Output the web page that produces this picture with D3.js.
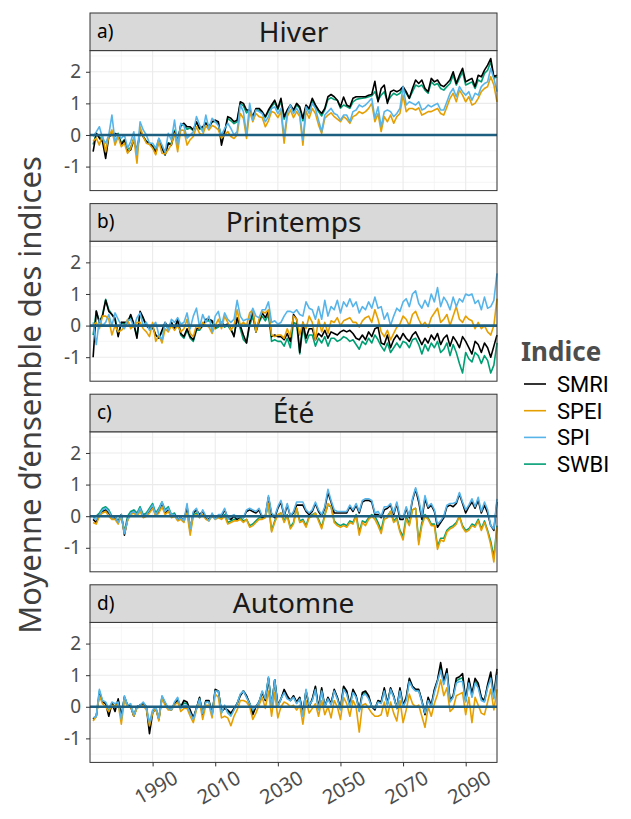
<!DOCTYPE html>
<html>
<head>
<meta charset="utf-8">
<script src="https://cdn.jsdelivr.net/npm/d3@7"></script>
<style>
  body { margin: 0; background: #ffffff; }
  svg { display: block; font-family: "Noto Sans", "Open Sans", "DejaVu Sans", sans-serif; }
</style>
</head>
<body>
<svg id="chart" width="631" height="819"></svg>
<script>
// Years 1971-2100, one ensemble-mean value per year
const years = d3.range(1971, 2101);
const indices = ["SMRI", "SPEI", "SPI", "SWBI"];
const indexColours = ["#000000", "#E69F00", "#56B4E9", "#009E73"];
const drawOrder = ["SWBI", "SMRI", "SPEI", "SPI"];
const seasons = ["Hiver", "Printemps", "Été", "Automne"];
const panelTags = ["a)", "b)", "c)", "d)"];
const yTicks = [-1, 0, 1, 2];
const yMinor = [-1.5, -0.5, 0.5, 1.5, 2.5];
const xTicks = [1990, 2010, 2030, 2050, 2070, 2090];
const xMinor = [1980, 2000, 2020, 2040, 2060, 2080, 2100];

// ---- Hiver ----
const smriHiver = [
 -0.53, 0.05, -0.1, -0.21, -0.74, -0.05, 0.0, 0.05, 0.0, -0.32,
 -0.16, -0.53, -0.47, -0.15, -0.53, 0.1, -0.05, -0.21, -0.26, -0.37,
 -0.58, -0.16, -0.42, -0.63, -0.26, -0.32, 0.1, -0.21, 0.32, 0.37,
 0.26, 0.26, 0.16, 0.42, 0.21, 0.26, 0.37, 0.26, 0.42, 0.47,
 0.42, -0.32, 0.1, 0.58, 0.53, 0.42, 0.47, 1.05, 1.0, 0.79,
 0.79, 0.58, 0.84, 0.84, 0.74, 0.58, 0.79, 0.95, 1.1, 0.84,
 1.16, 0.58, 0.79, 0.95, 0.79, 1.0, 0.89, 0.53, 0.95, 0.84,
 1.16, 0.95, 0.79, 0.68, 0.84, 1.21, 1.28, 1.21, 1.1, 0.89,
 1.2, 0.95, 0.89, 1.16, 1.21, 1.21, 1.21, 1.21, 1.26, 1.28,
 1.7, 1.05, 1.47, 1.58, 1.0, 1.37, 1.42, 1.37, 1.42, 1.53,
 1.37, 1.16, 1.47, 1.74, 1.63, 1.74, 1.47, 1.37, 1.79, 1.68,
 1.74, 1.58, 1.53, 1.63, 1.74, 2.0, 1.63, 1.89, 2.11, 1.68,
 1.74, 1.79, 1.53, 1.89, 1.84, 2.05, 2.21, 2.42, 1.84, 1.89
];
const speiHiver = [
 -0.2, -0.1, -0.32, 0.0, -0.53, -0.05, 0.16, -0.32, -0.05, -0.37,
 -0.26, -0.58, -0.42, -0.1, -0.89, 0.26, -0.05, -0.26, -0.3, -0.42,
 -0.63, -0.2, -0.58, -0.6, -0.47, -0.3, 0.05, -0.53, 0.16, 0.15,
 -0.32, -0.15, -0.05, 0.26, 0.05, 0.0, 0.3, 0.16, 0.3, 0.25,
 0.16, -0.1, 0.0, 0.11, -0.05, -0.11, 0.0, 0.68, 0.53, -0.11,
 0.74, 0.42, 0.68, 0.58, 0.55, 0.26, 0.45, 0.74, 0.7, 0.55,
 0.74, -0.26, 0.58, 0.79, 0.55, 0.74, 0.58, -0.32, 0.75, 0.53,
 0.84, 0.68, 0.32, 0.05, 0.53, 0.63, 0.7, 0.58, 0.5, 0.42,
 0.58, 0.5, 0.37, 0.58, 0.63, 0.74, 0.68, 0.74, 0.84, 1.0,
 0.42, 0.68, 0.11, 0.58, 0.42, 0.63, 0.37, 0.58, 0.68, 1.26,
 0.74, 0.84, 0.84, 0.79, 0.86, 0.63, 0.68, 0.74, 0.74, 0.79,
 0.84, 0.68, 0.63, 0.89, 1.16, 1.32, 1.05, 1.42, 1.26, 1.05,
 1.21, 0.95, 1.0, 1.16, 1.37, 1.47, 1.53, 1.84, 1.58, 1.05
];
const spiHiver = [
 -0.05, 0.1, 0.26, -0.1, -0.26, 0.0, 0.63, -0.21, 0.0, -0.1,
 0.0, -0.42, -0.21, 0.1, -0.63, 0.42, 0.16, 0.0, -0.26, -0.26,
 -0.42, -0.1, -0.32, -0.55, 0.05, -0.16, 0.47, -0.32, 0.37, 0.3,
 -0.1, 0.0, 0.1, 0.58, 0.32, 0.1, 0.63, 0.2, 0.53, 0.42,
 0.3, 0.0, 0.2, 0.37, 0.21, 0.0, 0.11, 0.95, 0.74, 0.0,
 1.0, 0.47, 0.79, 0.74, 0.68, 0.42, 0.58, 0.84, 0.89, 0.68,
 0.84, -0.05, 0.68, 0.95, 0.68, 0.84, 0.68, -0.16, 0.89, 0.68,
 1.0, 0.84, 0.47, 0.11, 0.63, 0.74, 0.84, 0.68, 0.63, 0.47,
 0.63, 0.63, 0.42, 0.74, 0.79, 0.95, 0.89, 0.95, 1.05, 1.16,
 0.53, 0.89, 0.26, 0.74, 0.79, 0.74, 0.58, 0.68, 0.84, 1.53,
 0.95, 1.05, 1.0, 0.95, 1.05, 0.79, 0.84, 0.95, 0.89, 0.95,
 1.0, 0.79, 0.79, 1.05, 1.32, 1.47, 1.21, 1.53, 1.37, 1.26,
 1.37, 1.1, 1.32, 1.26, 1.53, 1.63, 1.68, 2.11, 1.79, 1.37
];
const swbiHiver = [
 -0.3, 0.05, -0.05, -0.15, -0.55, -0.05, 0.1, -0.05, 0.05, -0.25,
 -0.15, -0.45, -0.4, -0.1, -0.55, 0.15, -0.05, -0.2, -0.25, -0.35,
 -0.5, -0.12, -0.38, -0.63, -0.25, -0.28, 0.15, -0.2, 0.3, 0.32,
 0.18, 0.22, 0.14, 0.4, 0.18, 0.22, 0.4, 0.24, 0.42, 0.42,
 0.38, -0.2, 0.1, 0.52, 0.45, 0.36, 0.42, 1.0, 0.92, 0.7,
 0.8, 0.55, 0.8, 0.78, 0.7, 0.55, 0.74, 0.9, 1.02, 0.8,
 1.08, 0.5, 0.76, 0.92, 0.74, 0.95, 0.84, 0.45, 0.92, 0.8,
 1.08, 0.9, 0.74, 0.6, 0.8, 1.12, 1.18, 1.12, 1.1, 0.85,
 0.95, 0.9, 0.84, 1.05, 1.12, 1.15, 1.16, 1.18, 1.21, 1.24,
 1.37, 1.1, 1.26, 1.37, 1.05, 1.21, 1.32, 1.26, 1.32, 1.47,
 1.32, 1.16, 1.37, 1.58, 1.53, 1.58, 1.42, 1.32, 1.68, 1.58,
 1.63, 1.47, 1.42, 1.53, 1.63, 1.89, 1.58, 1.79, 2.0, 1.58,
 1.63, 1.68, 1.47, 1.74, 1.68, 1.95, 2.05, 2.32, 1.79, 1.84
];

// ---- Printemps ----
const smriPrintemps = [
 -1.0, 0.46, 0.1, 0.3, 0.8, 0.45, 0.35, 0.2, -0.35, 0.1,
 0.1, 0.1, 0.35, 0.05, -0.4, 0.45, 0.25, 0.0, -0.1, -0.05,
 -0.3, -0.4, -0.15, 0.1, -0.05, 0.1, -0.1, 0.2, -0.25, -0.35,
 -0.1, -0.35, -0.45, -0.1, -0.1, 0.0, 0.2, 0.2, 0.15, -0.05,
 0.0, 0.1, 0.0, 0.05, -0.1, -0.35, 0.25, 0.0, -0.3, -0.55,
 0.1, 0.45, -0.2, 0.15, 0.4, 0.25, 0.45, -0.35, -0.3, -0.35,
 -0.35, -0.45, -0.25, -0.5, 0.35, 0.2, -0.85, 0.1, -0.4, -0.1,
 -0.1, -0.45, -0.25, -0.35, -0.15, -0.4, -0.2, -0.25, -0.3, -0.2,
 -0.15, -0.2, -0.15, -0.25, -0.4, -0.45, -0.3, -0.45, -0.2, -0.35,
 -0.1, -0.05, -0.55, -0.6, -0.3, -0.7, -0.45, -0.3, -0.45, -0.25,
 -0.4, -0.5, -0.3, -0.2, -0.4, -0.6, -0.4, -0.55, -0.3, -0.45,
 -0.25, -0.6, -0.4, -0.3, -0.65, -0.35, -0.5, -0.7, -0.35, -0.5,
 -0.7, -0.9, -0.5, -0.6, -0.85, -0.55, -0.7, -1.0, -0.65, -0.3
];
const speiPrintemps = [
 0.0, 0.1, -0.1, 0.3, 0.3, 0.2, -0.3, 0.0, -0.2, -0.15,
 -0.05, 0.2, -0.1, 0.0, 0.1, 0.1, -0.1, -0.2, -0.35, 0.1,
 -0.5, -0.3, -0.55, -0.1, -0.2, 0.0, -0.15, 0.0, -0.2, -0.1,
 0.2, -0.25, -0.35, 0.0, -0.1, 0.1, 0.0, -0.05, -0.25, 0.0,
 0.2, -0.1, 0.3, 0.1, -0.15, 0.0, 0.5, 0.0, 0.1, 0.0,
 0.4, 0.5, -0.2, 0.2, 0.45, 0.4, 0.5, -0.3, -0.35, -0.3,
 -0.3, -0.4, -0.1, -0.35, 0.3, 0.2, -0.3, 0.1, -0.1, 0.3,
 0.1, -0.45, 0.2, -0.2, 0.1, -0.25, 0.15, 0.1, 0.25, 0.0,
 0.15, 0.2, 0.25, 0.1, 0.1, -0.05, 0.15, 0.25, 0.3, 0.1,
 0.5, 0.2, -0.2, -0.35, -0.15, -0.45, -0.25, -0.05, 0.05, 0.3,
 0.2, 0.0, 0.35, 0.45, 0.2, 0.0, 0.1, -0.05, 0.25, 0.4,
 0.55, 0.1, 0.2, 0.35, 0.0, 0.3, 0.6, 0.2, 0.1, 0.3,
 0.2, 0.15, -0.1, 0.1, -0.1, 0.0, -0.2, -0.3, 0.0, 0.85
];
const spiPrintemps = [
 0.1, -0.6, 0.2, 0.0, 0.1, 0.35, 0.0, 0.4, 0.2, 0.0,
 -0.1, 0.15, 0.2, -0.05, 0.25, 0.4, 0.0, 0.1, -0.15, 0.0,
 0.1, -0.3, -0.45, 0.1, -0.15, 0.2, 0.1, 0.25, 0.05, 0.1,
 0.4, -0.1, 0.3, 0.55, -0.05, 0.35, 0.1, 0.3, -0.2, 0.3,
 0.45, 0.0, 0.4, 0.2, 0.1, 0.2, 0.8, 0.3, 0.15, 0.2,
 0.2, 0.55, 0.3, 0.25, 0.5, 0.5, 0.75, 0.1, 0.15, 0.05,
 0.1, 0.3, 0.45, 0.45, 0.4, 0.5, 0.35, 0.3, 0.75, 0.55,
 0.5, 0.2, 0.6, 0.2, 0.8, 0.3, 0.6, 0.5, 0.8, 0.4,
 0.75, 0.6, 0.85, 0.6, 0.75, 0.4, 0.6, 0.5, 0.75, 0.55,
 0.9, 0.55, 0.6, 0.2, 0.4, 0.0, 0.3, 0.55, 0.45, 0.75,
 0.85, 0.6, 1.0, 1.1, 0.7, 0.55, 0.8, 0.6, 1.0, 0.75,
 1.2, 0.6, 0.9, 0.75, 0.5, 0.9, 0.6, 0.85, 0.75, 1.0,
 0.95, 1.0, 0.7, 0.8, 0.5, 0.9, 0.55, 0.6, 0.8, 1.65
];
const swbiPrintemps = [
 -0.3, 0.46, 0.1, 0.35, 0.83, 0.5, 0.35, 0.25, -0.3, 0.1,
 0.05, 0.1, 0.3, 0.05, -0.35, 0.4, 0.2, 0.0, -0.1, -0.05,
 -0.3, -0.4, -0.2, 0.05, -0.1, 0.1, -0.1, 0.15, -0.3, -0.4,
 -0.15, -0.4, -0.5, -0.15, -0.15, 0.0, 0.15, 0.15, 0.1, -0.1,
 -0.05, 0.05, -0.05, 0.0, -0.15, -0.3, 0.2, -0.1, -0.45, -0.55,
 0.0, 0.3, -0.2, 0.1, 0.3, 0.15, 0.35, -0.5, -0.45, -0.5,
 -0.5, -0.65, -0.4, -0.7, 0.1, 0.05, -0.9, -0.05, -0.55, -0.3,
 -0.3, -0.65, -0.4, -0.55, -0.35, -0.65, -0.4, -0.4, -0.5, -0.45,
 -0.35, -0.4, -0.5, -0.45, -0.6, -0.75, -0.5, -0.6, -0.4, -0.55,
 -0.3, -0.45, -0.65, -0.8, -0.55, -0.85, -0.7, -0.55, -0.7, -0.5,
 -0.55, -0.7, -0.45, -0.4, -0.6, -0.9, -0.6, -0.8, -0.55, -0.7,
 -0.5, -0.85, -0.75, -0.55, -0.95, -0.6, -0.85, -1.2, -1.5, -0.85,
 -1.05, -1.15, -0.85, -0.95, -1.2, -0.95, -1.1, -1.5, -1.25, -0.55
];

// ---- Été ----
const smriEte = [
 -0.1, -0.2, 0.05, 0.15, 0.2, 0.1, -0.05, -0.05, -0.2, 0.05,
 -0.6, -0.1, 0.1, 0.15, 0.05, 0.2, 0.0, 0.05, 0.15, 0.3,
 0.05, 0.15, 0.35, 0.1, 0.2, 0.0, 0.05, -0.1, -0.05, -0.15,
 0.3, -0.4, 0.1, 0.2, 0.05, 0.15, -0.05, -0.1, 0.05, -0.05,
 0.0, 0.0, 0.2, -0.05, -0.1, 0.0, -0.1, 0.0, -0.05, 0.15,
 0.2, 0.15, 0.1, 0.2, -0.05, 0.0, 0.6, 0.05, -0.05, 0.25,
 0.45, 0.0, 0.35, 0.0, 0.1, 0.35, 0.35, 0.35, 0.15, 0.05,
 0.15, 0.4, 0.15, 0.0, 0.25, 0.75, 0.45, 0.1, 0.1, 0.1,
 0.1, 0.1, 0.3, 0.15, 0.35, 0.1, 0.45, 0.5, 0.5, 0.45,
 0.05, 0.05, -0.05, 0.2, 0.25, 0.35, 0.05, 0.4, -0.1, -0.1,
 0.25, -0.05, 0.5, 0.85, 0.45, -0.1, 0.55, 0.25, 0.35, 0.15,
 -0.35, -0.2, -0.05, 0.3, 0.35, 0.3, 0.4, 0.7, 0.4, 0.1,
 0.3, 0.45, 0.25, 0.5, 0.1, 0.35, 0.1, -0.3, -0.45, 0.45
];
const speiEte = [
 -0.2, -0.25, 0.0, 0.1, 0.15, 0.0, -0.1, -0.1, -0.25, 0.0,
 -0.55, -0.15, 0.05, 0.1, 0.0, 0.15, -0.05, 0.0, 0.1, 0.25,
 0.0, 0.1, 0.3, 0.05, 0.15, -0.05, 0.0, -0.15, -0.1, -0.2,
 0.1, -0.6, 0.0, 0.05, -0.05, 0.05, -0.1, -0.15, 0.0, -0.1,
 -0.05, -0.1, 0.0, -0.25, -0.2, -0.15, -0.15, -0.1, -0.2, -0.1,
 -0.35, -0.3, -0.2, -0.1, -0.1, -0.05, 0.4, -0.5, -0.2, 0.05,
 0.1, -0.2, 0.0, -0.4, -0.25, 0.25, -0.2, -0.15, -0.35, -0.05,
 0.0, 0.1, -0.15, -0.4, 0.0, 0.4, 0.3, -0.2, -0.3, -0.35,
 -0.3, -0.35, -0.2, -0.25, 0.0, -0.6, -0.2, -0.3, -0.1, 0.0,
 -0.1, -0.3, -0.55, -0.1, -0.05, 0.15, -0.2, -0.1, -0.5, -0.75,
 -0.1, -0.3, 0.2, 0.25, -0.9, -0.3, 0.0, -0.1, -0.3, -0.3,
 -1.05, -0.75, -0.8, -0.5, -0.4, -0.35, -0.25, 0.0, -0.35, -0.5,
 -0.45, -0.3, -0.35, -0.15, -0.45, -0.2, -0.5, -0.9, -1.45, -0.35
];
const spiEte = [
 -0.05, -0.1, 0.05, 0.2, 0.25, 0.15, -0.05, 0.0, -0.2, 0.05,
 -0.55, -0.1, 0.1, 0.15, 0.05, 0.25, 0.0, 0.05, 0.2, 0.35,
 0.05, 0.2, 0.45, 0.15, 0.25, 0.05, 0.05, -0.1, -0.05, -0.15,
 0.4, -0.4, 0.15, 0.25, -0.05, 0.2, 0.0, -0.15, 0.1, -0.1,
 0.05, 0.05, 0.25, -0.1, 0.0, 0.05, -0.05, 0.0, -0.05, 0.2,
 0.25, 0.2, 0.15, 0.25, 0.0, 0.0, 0.65, 0.1, 0.0, 0.3,
 0.5, 0.05, 0.4, 0.0, 0.15, 0.45, 0.45, 0.45, 0.2, 0.1,
 0.2, 0.45, 0.2, 0.05, 0.3, 0.85, 0.5, 0.2, 0.15, 0.15,
 0.15, 0.15, 0.35, 0.2, 0.4, 0.15, 0.5, 0.55, 0.55, 0.5,
 0.1, 0.15, 0.0, 0.3, 0.3, 0.4, 0.1, 0.45, 0.0, -0.05,
 0.3, 0.0, 0.55, 0.9, 0.55, 0.0, 0.65, 0.3, 0.4, 0.2,
 -0.25, -0.15, 0.0, 0.35, 0.4, 0.4, 0.45, 0.75, 0.45, 0.2,
 0.35, 0.55, 0.3, 0.6, 0.15, 0.45, 0.2, -0.3, -0.4, 0.55
];
const swbiEte = [
 -0.05, 0.0, 0.1, 0.25, 0.3, 0.2, 0.0, 0.0, -0.15, 0.05,
 -0.5, 0.0, 0.15, 0.2, 0.1, 0.3, 0.05, 0.1, 0.25, 0.4,
 0.1, 0.25, 0.45, 0.2, 0.3, 0.05, 0.1, -0.1, -0.05, -0.15,
 0.2, -0.5, 0.05, 0.1, 0.0, 0.05, -0.05, -0.1, 0.0, -0.05,
 0.0, -0.05, 0.05, -0.2, -0.15, -0.1, -0.1, -0.05, -0.15, -0.1,
 -0.3, -0.25, -0.15, -0.05, -0.05, 0.0, 0.35, -0.45, -0.15, 0.05,
 0.1, -0.15, 0.05, -0.35, -0.2, 0.25, -0.15, -0.1, -0.3, 0.0,
 0.05, 0.1, -0.1, -0.35, 0.05, 0.35, 0.3, -0.15, -0.25, -0.3,
 -0.25, -0.3, -0.15, -0.2, 0.05, -0.5, -0.15, -0.2, -0.05, 0.05,
 0.0, -0.2, -0.45, 0.0, 0.0, 0.15, -0.15, -0.05, -0.45, -0.65,
 0.0, -0.25, 0.2, 0.25, -0.8, -0.2, 0.05, -0.05, -0.25, -0.25,
 -0.95, -0.7, -0.7, -0.45, -0.35, -0.3, -0.2, 0.0, -0.3, -0.45,
 -0.4, -0.25, -0.3, -0.1, -0.4, -0.15, -0.45, -0.8, -1.3, -0.3
];

// ---- Automne ----
const smriAutomne = [
 -0.4, -0.3, 0.4, 0.15, 0.1, -0.3, 0.1, -0.15, 0.25, -0.3,
 0.3, 0.05, 0.0, -0.3, 0.0, 0.05, 0.1, 0.0, -0.85, -0.2,
 -0.05, -0.4, 0.3, 0.1, -0.05, -0.1, 0.1, 0.2, 0.0, 0.2,
 0.15, -0.1, -0.35, -0.05, 0.3, -0.25, 0.2, 0.2, -0.25, 0.55,
 0.5, -0.15, -0.05, -0.1, -0.2, -0.05, 0.1, 0.35, 0.5, 0.35,
 0.1, -0.25, 0.0, 0.15, 0.45, 0.2, 0.9, 0.0, 0.85, 0.05,
 0.25, 0.55, 0.35, 0.2, 0.35, 0.15, 0.3, -0.2, 0.5, 0.0,
 0.25, 0.65, -0.05, 0.6, 0.0, 0.3, 0.1, 0.55, 0.3, -0.05,
 0.65, 0.5, 0.05, 0.55, 0.35, -0.1, 0.45, 0.5, 0.35, 0.0,
 -0.1, 0.2, 0.15, 0.6, 0.1, 0.6, 0.35, -0.05, 0.6, 0.05,
 0.3, 0.9, 0.65, 0.55, 0.55, 0.2, -0.25, 0.3, 0.05, 0.55,
 0.85, 1.4, 0.8, 1.2, 0.2, 0.35, 0.9, 0.95, 1.05, 0.2,
 0.9, 0.4, 0.9, 0.75, 0.3, 0.2, 0.7, 1.1, 0.35, 1.2
];
const speiAutomne = [
 -0.45, -0.3, 0.35, 0.1, 0.0, -0.15, 0.05, 0.0, 0.1, -0.55,
 0.2, 0.0, 0.0, -0.3, -0.05, 0.0, 0.05, -0.1, -0.6, -0.2,
 -0.05, -0.45, 0.25, 0.05, -0.1, -0.1, 0.05, 0.15, -0.15, -0.05,
 -0.05, -0.3, -0.5, -0.1, 0.15, -0.4, 0.05, 0.05, -0.35, 0.4,
 0.3, -0.35, -0.3, -0.35, -0.6, -0.3, -0.1, 0.2, 0.2, 0.15,
 0.0, -0.4, -0.2, 0.05, 0.3, -0.05, 0.5, -0.3, 0.45, -0.35,
 0.0, 0.15, 0.1, 0.0, 0.05, -0.1, 0.05, -0.55, 0.2, -0.2,
 -0.05, 0.1, -0.3, 0.2, -0.25, 0.0, -0.35, 0.2, 0.0, -0.4,
 0.3, 0.1, -0.3, 0.2, 0.0, -0.8, 0.05, 0.1, -0.05, -0.2,
 -0.3, -0.3, -0.25, 0.15, -0.3, 0.15, -0.2, -0.45, 0.2, -0.5,
 -0.1, 0.4, 0.1, 0.0, 0.05, -0.3, -0.65, 0.0, -0.3, 0.1,
 0.4, 0.85, 0.35, 0.6, -0.15, -0.05, 0.35, 0.4, 0.45, -0.25,
 0.3, -0.5, 0.3, 0.05, -0.2, -0.25, 0.15, 0.55, -0.1, 0.55
];
const spiAutomne = [
 -0.35, -0.3, 0.55, 0.2, 0.15, -0.05, 0.15, 0.1, 0.15, -0.4,
 0.35, 0.05, 0.1, -0.25, 0.0, 0.05, 0.15, 0.0, -0.5, -0.1,
 0.0, -0.35, 0.35, 0.15, -0.05, -0.1, 0.15, 0.3, -0.05, 0.05,
 0.05, -0.2, -0.4, -0.05, 0.25, -0.2, 0.15, 0.15, -0.25, 0.5,
 0.5, -0.2, 0.05, -0.2, -0.3, -0.1, 0.1, 0.4, 0.5, 0.3,
 0.1, -0.1, 0.0, 0.15, 0.5, 0.25, 0.95, 0.0, 0.85, 0.0,
 0.25, 0.45, 0.25, 0.2, 0.3, 0.1, 0.25, -0.3, 0.55, 0.05,
 0.2, 0.55, -0.1, 0.5, 0.0, 0.25, 0.05, 0.5, 0.25, -0.1,
 0.55, 0.4, 0.0, 0.45, 0.3, -0.15, 0.35, 0.4, 0.25, 0.0,
 -0.05, 0.15, 0.1, 0.5, 0.05, 0.55, 0.3, -0.05, 0.5, 0.0,
 0.2, 0.8, 0.6, 0.5, 0.5, 0.15, -0.2, 0.2, 0.0, 0.45,
 0.8, 1.15, 0.7, 1.05, 0.15, 0.3, 0.75, 0.8, 0.8, 0.15,
 0.75, 0.3, 0.75, 0.6, 0.2, 0.15, 0.6, 0.9, 0.25, 1.0
];
const swbiAutomne = [
 -0.38, -0.3, 0.5, 0.18, 0.12, -0.15, 0.12, 0.0, 0.2, -0.35,
 0.32, 0.05, 0.05, -0.28, 0.0, 0.05, 0.12, 0.0, -0.65, -0.15,
 -0.02, -0.38, 0.32, 0.12, -0.05, -0.1, 0.12, 0.25, -0.02, 0.12,
 0.1, -0.15, -0.38, -0.05, 0.28, -0.22, 0.18, 0.18, -0.25, 0.52,
 0.5, -0.18, 0.0, -0.15, -0.25, -0.08, 0.1, 0.38, 0.5, 0.32,
 0.1, -0.18, 0.0, 0.15, 0.48, 0.22, 0.92, 0.0, 0.85, 0.02,
 0.25, 0.5, 0.3, 0.2, 0.32, 0.12, 0.28, -0.25, 0.52, 0.02,
 0.22, 0.6, -0.08, 0.55, 0.0, 0.28, 0.08, 0.52, 0.28, -0.08,
 0.6, 0.45, 0.02, 0.5, 0.32, -0.12, 0.4, 0.45, 0.3, 0.0,
 -0.05, 0.18, 0.12, 0.55, 0.08, 0.58, 0.32, -0.05, 0.55, 0.02,
 0.25, 0.85, 0.62, 0.52, 0.52, 0.18, -0.22, 0.25, 0.02, 0.5,
 0.82, 1.25, 0.75, 1.12, 0.18, 0.32, 0.82, 0.88, 0.92, 0.18,
 0.82, 0.35, 0.82, 0.68, 0.25, 0.18, 0.65, 1.0, 0.3, 1.1
];

// Season -> index -> yearly values
const seriesBySeason = {
  "Hiver":     { SMRI: smriHiver,     SPEI: speiHiver,     SPI: spiHiver,     SWBI: swbiHiver },
  "Printemps": { SMRI: smriPrintemps, SPEI: speiPrintemps, SPI: spiPrintemps, SWBI: swbiPrintemps },
  "Été":       { SMRI: smriEte,       SPEI: speiEte,       SPI: spiEte,       SWBI: swbiEte },
  "Automne":   { SMRI: smriAutomne,   SPEI: speiAutomne,   SPI: spiAutomne,   SWBI: swbiAutomne }
};

// ---- layout ----
const svg = d3.select("#chart");
const plotLeft = 90, plotRight = 497;
const firstStripTop = 13, stripH = 37.6, panelH = 140, panelGap = 13;
const panelStep = stripH + panelH + panelGap;

const colour = d3.scaleOrdinal().domain(indices).range(indexColours);
const x = d3.scaleLinear().domain([1970, 2100]).range([plotLeft, plotRight]);

seasons.forEach((season, i) => {
  const stripTop = firstStripTop + i * panelStep;
  const top = stripTop + stripH;
  const y = d3.scaleLinear().domain([-1.76, 2.67]).range([top + panelH, top]);
  const g = svg.append("g").attr("class", "panel");

  // grid
  g.append("g").selectAll("line").data(yMinor).join("line")
    .attr("x1", plotLeft).attr("x2", plotRight)
    .attr("y1", d => y(d)).attr("y2", d => y(d))
    .attr("stroke", "#f0f0f0").attr("stroke-width", 0.6);
  g.append("g").selectAll("line").data(xMinor).join("line")
    .attr("x1", d => x(d)).attr("x2", d => x(d))
    .attr("y1", top).attr("y2", top + panelH)
    .attr("stroke", "#f0f0f0").attr("stroke-width", 0.6);
  g.append("g").selectAll("line").data(yTicks).join("line")
    .attr("x1", plotLeft).attr("x2", plotRight)
    .attr("y1", d => y(d)).attr("y2", d => y(d))
    .attr("stroke", "#ebebeb").attr("stroke-width", 1.1);
  g.append("g").selectAll("line").data(xTicks).join("line")
    .attr("x1", d => x(d)).attr("x2", d => x(d))
    .attr("y1", top).attr("y2", top + panelH)
    .attr("stroke", "#ebebeb").attr("stroke-width", 1.1);

  // series lines
  const line = d3.line().x((d, k) => x(years[k])).y(d => y(d));
  const data = seriesBySeason[season];
  drawOrder.forEach(idx => {
    g.append("path")
      .datum(data[idx])
      .attr("d", line)
      .attr("fill", "none")
      .attr("stroke", colour(idx))
      .attr("stroke-width", 1.6)
      .attr("stroke-linejoin", "round");
  });

  // zero reference line
  g.append("line")
    .attr("x1", plotLeft).attr("x2", plotRight)
    .attr("y1", y(0)).attr("y2", y(0))
    .attr("stroke", "#1d5f80").attr("stroke-width", 2.6);

  // panel border
  g.append("rect")
    .attr("x", plotLeft).attr("y", top)
    .attr("width", plotRight - plotLeft).attr("height", panelH)
    .attr("fill", "none").attr("stroke", "#333333").attr("stroke-width", 1);

  // strip
  g.append("rect")
    .attr("x", plotLeft).attr("y", stripTop)
    .attr("width", plotRight - plotLeft).attr("height", stripH)
    .attr("fill", "#d9d9d9").attr("stroke", "#333333").attr("stroke-width", 1);
  g.append("text")
    .attr("x", (plotLeft + plotRight) / 2).attr("y", stripTop + stripH / 2 + 9.8)
    .attr("text-anchor", "middle")
    .attr("font-size", 28).attr("fill", "#1a1a1a")
    .text(season);
  g.append("text")
    .attr("x", plotLeft + 7).attr("y", stripTop + stripH / 2 + 6)
    .attr("font-size", 19).attr("fill", "#000000")
    .text(panelTags[i]);

  // y axis
  const yAxis = d3.axisLeft(y).tickValues(yTicks).tickSize(4).tickPadding(5)
    .tickFormat(d => d < 0 ? "-" + Math.abs(d) : String(d));
  const ya = g.append("g").attr("transform", `translate(${plotLeft},0)`).call(yAxis);
  ya.select(".domain").remove();
  ya.selectAll(".tick line").attr("stroke", "#333333");
  ya.selectAll(".tick text").attr("font-size", 19).attr("fill", "#4d4d4d")
    .attr("font-family", "'Noto Sans', 'Open Sans', sans-serif");

  // x axis on the bottom panel only
  if (i === seasons.length - 1) {
    const xAxis = d3.axisBottom(x).tickValues(xTicks).tickSize(4).tickFormat(d3.format("d"));
    const xa = g.append("g").attr("transform", `translate(0,${top + panelH})`).call(xAxis);
    xa.select(".domain").remove();
    xa.selectAll(".tick line").attr("stroke", "#333333");
    xa.selectAll(".tick text")
      .attr("x", 0).attr("y", 0).attr("dy", "0.35em")
      .attr("transform", "translate(3,25) rotate(-30)")
      .attr("text-anchor", "middle")
      .attr("font-size", 20).attr("fill", "#4d4d4d")
      .attr("font-family", "'Noto Sans', 'Open Sans', sans-serif");
  }
});

// y axis title
svg.append("text")
  .attr("transform", "translate(41,395) rotate(-90)")
  .attr("text-anchor", "middle")
  .attr("font-size", 31).attr("fill", "#404040")
  .text("Moyenne d’ensemble des indices");

// legend
const legend = svg.append("g").attr("transform", "translate(521,0)");
legend.append("text")
  .attr("x", 0).attr("y", 361)
  .attr("font-size", 26).attr("font-weight", "bold").attr("fill", "#4d4d4d")
  .text("Indice");
indices.forEach((idx, k) => {
  const cy = 384 + k * 26.7;
  legend.append("line")
    .attr("x1", 3).attr("x2", 25).attr("y1", cy).attr("y2", cy)
    .attr("stroke", colour(idx)).attr("stroke-width", 1.6);
  legend.append("text")
    .attr("x", 36).attr("y", cy + 8)
    .attr("font-size", 22).attr("fill", "#000000")
    .attr("font-family", "Roboto, 'Noto Sans', sans-serif")
    .text(idx);
});
</script>
</body>
</html>
